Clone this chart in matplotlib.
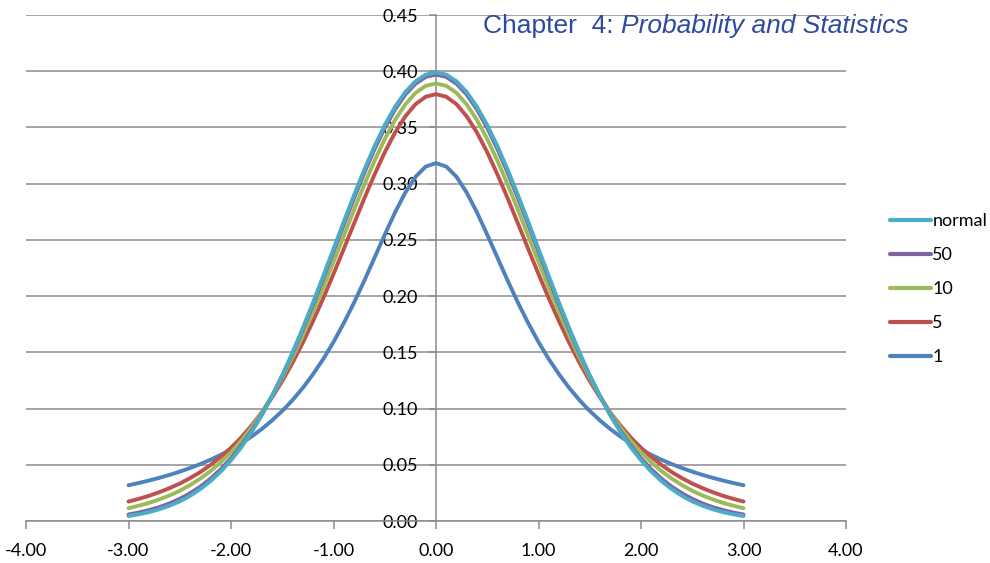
import matplotlib.pyplot as plt

# x positions of the plotted points
x = [-3.0, -2.9, -2.8, -2.7, -2.6, -2.5, -2.4, -2.3, -2.2, -2.1, -2.0, -1.9, -1.8, -1.7, -1.6, -1.5,
     -1.4, -1.3, -1.2, -1.1, -1.0, -0.9, -0.8, -0.7, -0.6, -0.5, -0.4, -0.3, -0.2, -0.1, 0.0,
     0.1, 0.2, 0.3, 0.4, 0.5, 0.6, 0.7, 0.8, 0.9, 1.0, 1.1, 1.2, 1.3, 1.4, 1.5,
     1.6, 1.7, 1.8, 1.9, 2.0, 2.1, 2.2, 2.3, 2.4, 2.5, 2.6, 2.7, 2.8, 2.9, 3.0]

# densities (degrees of freedom 1, 5, 10, 50 and normal)
t1 = [0.0318, 0.0338, 0.0360, 0.0384, 0.0410, 0.0439, 0.0471, 0.0506, 0.0545, 0.0588, 0.0637,
      0.0690, 0.0751, 0.0818, 0.0894, 0.0979, 0.1075, 0.1183, 0.1305, 0.1440, 0.1592,
      0.1759, 0.1941, 0.2136, 0.2341, 0.2546, 0.2744, 0.2920, 0.3061, 0.3152, 0.3183,
      0.3152, 0.3061, 0.2920, 0.2744, 0.2546, 0.2341, 0.2136, 0.1941, 0.1759, 0.1592,
      0.1440, 0.1305, 0.1183, 0.1075, 0.0979, 0.0894, 0.0818, 0.0751, 0.0690, 0.0637,
      0.0588, 0.0545, 0.0506, 0.0471, 0.0439, 0.0410, 0.0384, 0.0360, 0.0338, 0.0318]
t5 = [0.0173, 0.0197, 0.0224, 0.0256, 0.0292, 0.0333, 0.0381, 0.0435, 0.0498, 0.0570, 0.0651,
      0.0743, 0.0848, 0.0966, 0.1098, 0.1245, 0.1407, 0.1585, 0.1777, 0.1981, 0.2197,
      0.2419, 0.2645, 0.2868, 0.3081, 0.3279, 0.3454, 0.3598, 0.3707, 0.3773, 0.3796,
      0.3773, 0.3707, 0.3598, 0.3454, 0.3279, 0.3081, 0.2868, 0.2645, 0.2419, 0.2197,
      0.1981, 0.1777, 0.1585, 0.1407, 0.1245, 0.1098, 0.0966, 0.0848, 0.0743, 0.0651,
      0.0570, 0.0498, 0.0435, 0.0381, 0.0333, 0.0292, 0.0256, 0.0224, 0.0197, 0.0173]
t10 = [0.0114, 0.0136, 0.0161, 0.0192, 0.0227, 0.0269, 0.0319, 0.0377, 0.0444, 0.0522, 0.0611,
       0.0714, 0.0831, 0.0963, 0.1111, 0.1274, 0.1454, 0.1648, 0.1857, 0.2076, 0.2304,
       0.2535, 0.2766, 0.2991, 0.3203, 0.3397, 0.3566, 0.3704, 0.3807, 0.3870, 0.3891,
       0.3870, 0.3807, 0.3704, 0.3566, 0.3397, 0.3203, 0.2991, 0.2766, 0.2535, 0.2304,
       0.2076, 0.1857, 0.1648, 0.1454, 0.1274, 0.1111, 0.0963, 0.0831, 0.0714, 0.0611,
       0.0522, 0.0444, 0.0377, 0.0319, 0.0269, 0.0227, 0.0192, 0.0161, 0.0136, 0.0114]
t50 = [0.0058, 0.0075, 0.0097, 0.0123, 0.0156, 0.0197, 0.0246, 0.0305, 0.0376, 0.0460, 0.0558,
       0.0671, 0.0801, 0.0947, 0.1111, 0.1292, 0.1489, 0.1701, 0.1924, 0.2158, 0.2396,
       0.2635, 0.2870, 0.3096, 0.3306, 0.3496, 0.3659, 0.3792, 0.3889, 0.3950, 0.3970,
       0.3950, 0.3889, 0.3792, 0.3659, 0.3496, 0.3306, 0.3096, 0.2870, 0.2635, 0.2396,
       0.2158, 0.1924, 0.1701, 0.1489, 0.1292, 0.1111, 0.0947, 0.0801, 0.0671, 0.0558,
       0.0460, 0.0376, 0.0305, 0.0246, 0.0197, 0.0156, 0.0123, 0.0097, 0.0075, 0.0058]
normal = [0.0044, 0.0060, 0.0079, 0.0104, 0.0136, 0.0175, 0.0224, 0.0283, 0.0355, 0.0440, 0.0540,
          0.0656, 0.0790, 0.0940, 0.1109, 0.1295, 0.1497, 0.1714, 0.1942, 0.2179, 0.2420,
          0.2661, 0.2897, 0.3123, 0.3332, 0.3521, 0.3683, 0.3814, 0.3910, 0.3970, 0.3989,
          0.3970, 0.3910, 0.3814, 0.3683, 0.3521, 0.3332, 0.3123, 0.2897, 0.2661, 0.2420,
          0.2179, 0.1942, 0.1714, 0.1497, 0.1295, 0.1109, 0.0940, 0.0790, 0.0656, 0.0540,
          0.0440, 0.0355, 0.0283, 0.0224, 0.0175, 0.0136, 0.0104, 0.0079, 0.0060, 0.0044]

xticks = [-4, -3, -2, -1, 0, 1, 2, 3, 4]
yticks = [0.0, 0.05, 0.10, 0.15, 0.20, 0.25, 0.30, 0.35, 0.40, 0.45]

plt.rcParams['font.family'] = ['Lato', 'DejaVu Sans']

fig = plt.figure(figsize=(9.9, 5.63), dpi=100)
ax = fig.add_axes([26 / 990, 1 - 521 / 563, 820 / 990, 506 / 563])

series = [(t1, '1', '#4F81BD'), (t5, '5', '#C0504D'), (t10, '10', '#9BBB59'),
          (t50, '50', '#8064A2'), (normal, 'normal', '#4BACC6')]
for ys, lab, col in series:
    ax.plot(x, ys, color=col, lw=2.8, solid_capstyle='round', solid_joinstyle='round', label=lab, zorder=3)

ax.set_xlim(-4, 4)
ax.set_ylim(0, 0.45)
ax.set_xticks(xticks)
ax.set_yticks(yticks)
ax.set_xticklabels(['%.2f' % v for v in xticks])
ax.set_yticklabels(['%.2f' % v for v in yticks])
ax.yaxis.grid(True, color='#8c8c8c', lw=1.1)
ax.set_axisbelow(True)

for s in ['top', 'right']:
    ax.spines[s].set_visible(False)
ax.spines['left'].set_position(('data', 0))
ax.spines['bottom'].set_position(('data', 0))
for s in ['left', 'bottom']:
    ax.spines[s].set_color('#8c8c8c')
    ax.spines[s].set_linewidth(1.1)
ax.tick_params(axis='x', direction='out', length=6, width=1.1, color='#8c8c8c', pad=10, labelsize=13)
ax.tick_params(axis='y', direction='out', length=5, width=1.1, color='#8c8c8c', pad=8, labelsize=13)

handles, labels = ax.get_legend_handles_labels()
leg = fig.legend(handles[::-1], labels[::-1], loc='center left', bbox_to_anchor=(890 / 990, 1 - 289 / 563),
                 frameon=False, fontsize=13, handlelength=2.25, handletextpad=0.1, labelspacing=1.0,
                 borderpad=0, borderaxespad=0)
for line in leg.get_lines():
    line.set_linewidth(3)

title_col = '#2E4A9E'
t = fig.text(483 / 990, 1 - 33 / 563, 'Chapter  4: ', fontsize=19, color=title_col,
             family='Liberation Sans', va='baseline')
ax.annotate('Probability and Statistics', xy=(1, 0), xycoords=t, va='bottom', fontsize=19,
            color=title_col, family='Liberation Sans', style='italic', annotation_clip=False)

fig.savefig('out.png', dpi=100)
